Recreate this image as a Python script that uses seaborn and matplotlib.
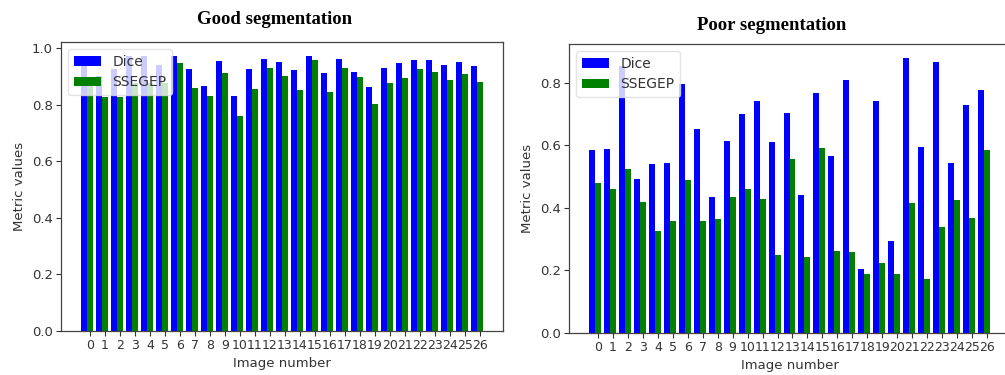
import numpy as np
import pandas as pd
import matplotlib
matplotlib.use("Agg")
import matplotlib.pyplot as plt
import seaborn as sns

images = list(range(27))
series = ["Dice", "SSEGEP"]

good_dice = [0.94, 0.90, 0.925, 0.973, 0.973, 0.941, 0.973, 0.928, 0.866, 0.955,
             0.831, 0.927, 0.963, 0.952, 0.922, 0.973, 0.914, 0.963, 0.917, 0.864,
             0.931, 0.946, 0.960, 0.960, 0.941, 0.952, 0.936]
good_ssegep = [0.878, 0.827, 0.827, 0.878, 0.878, 0.878, 0.949, 0.861, 0.831, 0.911,
               0.762, 0.857, 0.931, 0.902, 0.851, 0.959, 0.846, 0.930, 0.897, 0.804,
               0.878, 0.894, 0.927, 0.917, 0.889, 0.908, 0.879]

poor_dice = [0.585, 0.589, 0.855, 0.492, 0.539, 0.543, 0.797, 0.653, 0.436, 0.615,
             0.700, 0.742, 0.610, 0.703, 0.441, 0.767, 0.565, 0.810, 0.205, 0.742,
             0.293, 0.878, 0.594, 0.865, 0.543, 0.729, 0.776]
poor_ssegep = [0.479, 0.462, 0.525, 0.420, 0.327, 0.357, 0.488, 0.357, 0.364, 0.436,
               0.462, 0.427, 0.249, 0.555, 0.242, 0.593, 0.263, 0.258, 0.190, 0.225,
               0.190, 0.415, 0.174, 0.339, 0.424, 0.369, 0.585]

titles = ["Good segmentation", "Poor segmentation"]
colors = {"Dice": "#0000ff", "SSEGEP": "#008000"}


def long_df(dice, ssegep):
    return pd.DataFrame({
        "Image number": [str(i) for i in images] * 2,
        "Metric values": list(dice) + list(ssegep),
        "series": ["Dice"] * len(images) + ["SSEGEP"] * len(images),
    })


plt.rcParams["font.family"] = ["DejaVu Sans"]
fig = plt.figure(figsize=(10.05, 3.75), dpi=100)
W, H = 1005, 375

# axes boxes in pixels: left, top, right, bottom
boxes = [(61, 42, 503, 331), (569, 44, 1010, 333)]
yticks = [np.arange(0, 1.01, 0.2), np.arange(0, 0.81, 0.2)]
ylims = [(0, 1.022), (0, 0.924)]
datas = [(good_dice, good_ssegep), (poor_dice, poor_ssegep)]

for k in range(2):
    l, t, r, b = boxes[k]
    ax = fig.add_axes([l / W, 1 - b / H, (r - l) / W, (b - t) / H])
    df = long_df(*datas[k])
    sns.barplot(data=df, x="Image number", y="Metric values", hue="series",
                hue_order=series, palette=colors, saturation=1, linewidth=0,
                width=0.8, ax=ax, errorbar=None)
    ax.set_xlim(-1.74, 27.74)
    ax.set_ylim(*ylims[k])
    ax.set_xticks([i + 0.2 for i in images])
    ax.set_xticklabels([str(i) for i in images], fontsize=9, color="#333333")
    ax.set_yticks(yticks[k])
    ax.set_yticklabels([f"{v:.1f}" for v in yticks[k]], fontsize=9.5, color="#333333")
    ax.tick_params(direction="out", length=3.5, width=0.8, colors="#333333",
                   labelcolor="#333333", pad=2.5)
    ax.set_xlabel("Image number", fontsize=9.5, color="#333333", labelpad=3)
    ax.set_ylabel("Metric values", fontsize=9.5, color="#333333", labelpad=4)
    for s in ax.spines.values():
        s.set_color("#444444")
        s.set_linewidth(0.9)
    leg = ax.legend(loc="upper left", fontsize=10, framealpha=0.8,
                    borderaxespad=0.5, handlelength=2.0)
    leg.get_frame().set_edgecolor("#dddddd")
    for txt in leg.get_texts():
        txt.set_color("#333333")

fig.text(275 / W, 1 - 20 / H, titles[0], ha="center", va="center",
         fontsize=13.5, fontweight="bold", family="Liberation Serif")
fig.text(772 / W, 1 - 25 / H, titles[1], ha="center", va="center",
         fontsize=13.5, fontweight="bold", family="Liberation Serif")

fig.savefig("out.png", dpi=100, facecolor="white")
